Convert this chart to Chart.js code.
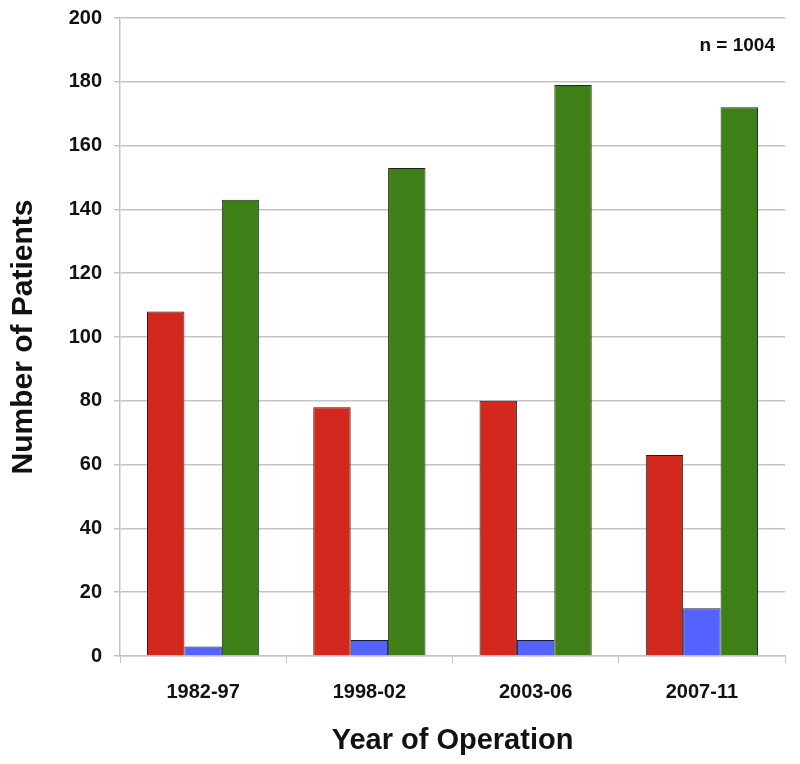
<!DOCTYPE html>
<html>
<head>
<meta charset="utf-8">
<script src="https://cdn.jsdelivr.net/npm/chart.js@4"></script>
<style>
  html, body { margin: 0; padding: 0; background: #fff; }
  #wrap { width: 800px; height: 764px; }
</style>
</head>
<body>
<div id="wrap"><canvas id="patientsChart" width="800" height="764"></canvas></div>
<script>
const periods = ["1982-97", "1998-02", "2003-06", "2007-11"];
const redValues = [108, 78, 80, 63];
const blueValues = [3, 5, 5, 15];
const greenValues = [143, 153, 179, 172];
const yTicks = [0, 20, 40, 60, 80, 100, 120, 140, 160, 180, 200];
const totalLabel = "n = 1004";

const FONT = "'Liberation Sans', Arial, sans-serif";
const GRID = "#c4c4c4";

const totalNote = {
  id: "totalNote",
  afterDraw(chart) {
    const ctx = chart.ctx;
    const area = chart.chartArea;
    ctx.save();
    ctx.font = "bold 19px " + FONT;
    ctx.fillStyle = "#111";
    ctx.textAlign = "right";
    ctx.textBaseline = "middle";
    ctx.fillText(totalLabel, area.right - 10, area.top + 28);
    ctx.restore();
  }
};

document.addEventListener("DOMContentLoaded", function() {
  const ctx = document.getElementById("patientsChart").getContext("2d");
  new Chart(ctx, {
    type: "bar",
    data: {
      labels: periods,
      datasets: [
        { data: redValues, backgroundColor: "#d2281e", borderColor: "#2a1a16", borderWidth: 1 },
        { data: blueValues, backgroundColor: "#5463ff", borderColor: "#1a1a40", borderWidth: 1 },
        { data: greenValues, backgroundColor: "#3e7f18", borderColor: "#1b2d10", borderWidth: 1 }
      ]
    },
    options: {
      responsive: false,
      animation: false,
      layout: { padding: { top: 18, right: 15, left: 0, bottom: 0 } },
      datasets: { bar: { categoryPercentage: 0.675, barPercentage: 1.0 } },
      plugins: { legend: { display: false }, tooltip: { enabled: false } },
      scales: {
        x: {
          afterFit: s => { s.height = 108; },
          grid: { drawOnChartArea: false, color: GRID, tickLength: 7 },
          border: { color: GRID, width: 1.5 },
          ticks: { color: "#111", font: { family: FONT, size: 20, weight: "bold" }, padding: 17 },
          title: {
            display: true, text: "Year of Operation", color: "#111",
            font: { family: FONT, size: 29, weight: "bold" }, padding: { top: 0, bottom: 6 }
          }
        },
        y: {
          min: 0,
          max: 200,
          afterFit: s => { s.width = 120; s.paddingTop = 0; s.paddingBottom = 0; },
          afterBuildTicks: s => { s.ticks = yTicks.map(v => ({ value: v })); },
          grid: { color: GRID, lineWidth: 1.5, tickLength: 6 },
          border: { color: GRID, width: 1.5 },
          ticks: { color: "#111", font: { family: FONT, size: 20, weight: "bold" }, padding: 12 },
          title: {
            display: true, text: "Number of Patients", color: "#111",
            font: { family: FONT, size: 30, weight: "bold" }, padding: { top: 6, bottom: 0 }
          }
        }
      }
    },
    plugins: [totalNote]
  });
});
</script>
</body>
</html>
